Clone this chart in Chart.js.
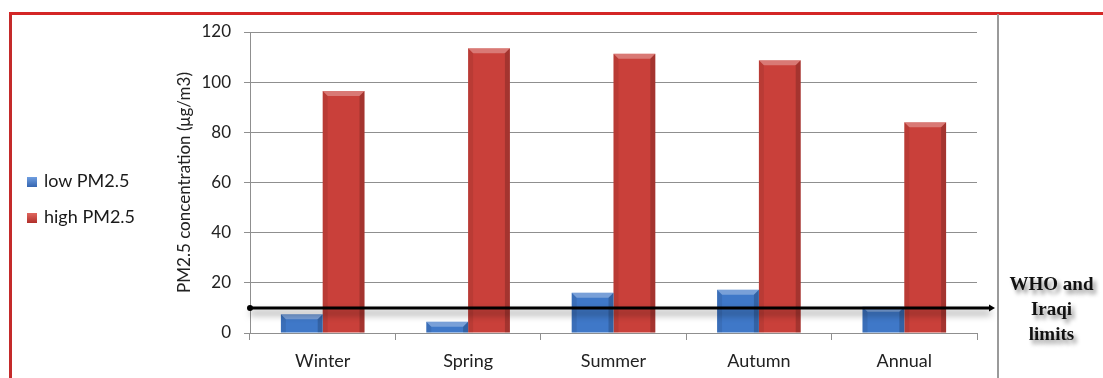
<!DOCTYPE html>
<html>
<head>
<meta charset="utf-8">
<script src="https://cdn.jsdelivr.net/npm/chart.js@4"></script>
<style>
  body { margin: 0; background: #fff; }
  #wrap { position: relative; width: 1103px; height: 378px; overflow: hidden; font-family: Lato, "Open Sans", sans-serif; }
  #frameLeft { position: absolute; left: 9px; top: 12px; width: 3px; height: 380px; background: #c42a2a; }
  #frameTop { position: absolute; left: 9px; top: 12px; width: 1100px; height: 3px; background: #d42626; }
  #frameRight { position: absolute; left: 997px; top: 14px; width: 1.5px; height: 370px; background: #9a9a9a; }
  .legend { position: absolute; left: 27px; font-size: 18px; color: #1a1a1a; line-height: 20px; }
  .legend i { display: inline-block; width: 10px; height: 10px; margin-right: 7px; vertical-align: 0px; }
  #who { position: absolute; left: 1000px; width: 103px; top: 271px; text-align: center;
         font-family: "Liberation Serif", "Times New Roman", serif; font-weight: bold; font-size: 19px;
         line-height: 25px; color: #111; text-shadow: 3px 4px 4px rgba(0,0,0,0.45); }
</style>
</head>
<body>
<div id="wrap">
  <canvas id="chart" width="1103" height="378"></canvas>
  <div id="frameLeft"></div>
  <div id="frameTop"></div>
  <div id="frameRight"></div>
  <div class="legend" style="top:170px"><i style="background:linear-gradient(#6f9ee0,#3565b0)"></i>low PM2.5</div>
  <div class="legend" style="top:206px"><i style="background:linear-gradient(#e0675f,#b02f2a)"></i>high PM2.5</div>
  <div id="who">WHO and<br>Iraqi<br>limits</div>
</div>
<script>
const seasons = ["Winter", "Spring", "Summer", "Autumn", "Annual"];
const lowPM = [7.5, 4.5, 16, 17.2, 10.5];
const highPM = [96.5, 113.5, 111.3, 108.7, 84];
const yTicks = [0, 20, 40, 60, 80, 100, 120];
const limitValue = 10;

// bevelled look of the bars, drawn over each bar element
const bevel = {
    id: "bevel",
    afterDatasetsDraw(chart) {
        const ctx = chart.ctx;
        chart.data.datasets.forEach((ds, i) => {
            chart.getDatasetMeta(i).data.forEach(bar => {
                const { x, y, base, width } = bar.getProps(["x", "y", "base", "width"], true);
                const l = x - width / 2, r = x + width / 2;
                const d = Math.min(5, (base - y) / 2);
                ctx.save();
                ctx.fillStyle = "rgba(255,255,255,0.3)";
                ctx.beginPath();
                ctx.moveTo(l, y); ctx.lineTo(r, y); ctx.lineTo(r - d, y + d); ctx.lineTo(l + d, y + d);
                ctx.closePath(); ctx.fill();
                ctx.fillStyle = "rgba(0,0,0,0.18)";
                ctx.beginPath();
                ctx.moveTo(r, y); ctx.lineTo(r, base); ctx.lineTo(r - d, base); ctx.lineTo(r - d, y + d);
                ctx.closePath(); ctx.fill();
                ctx.fillStyle = "rgba(0,0,0,0.08)";
                ctx.beginPath();
                ctx.moveTo(l, y); ctx.lineTo(l, base); ctx.lineTo(l + d, base); ctx.lineTo(l + d, y + d);
                ctx.closePath(); ctx.fill();
                ctx.restore();
            });
        });
    }
};

// WHO / Iraqi limit line with arrow
const limitLine = {
    id: "limitLine",
    afterDatasetsDraw(chart) {
        const { ctx, chartArea, scales } = chart;
        const y = scales.y.getPixelForValue(limitValue);
        const x0 = chartArea.left, x1 = chartArea.right + 14;
        ctx.save();
        ctx.shadowColor = "rgba(0,0,0,0.5)";
        ctx.shadowBlur = 7;
        ctx.shadowOffsetY = 5;
        ctx.strokeStyle = "#000";
        ctx.lineWidth = 3;
        ctx.beginPath();
        ctx.moveTo(x0, y);
        ctx.lineTo(x1, y);
        ctx.stroke();
        ctx.shadowColor = "transparent";
        ctx.fillStyle = "#000";
        ctx.beginPath();
        ctx.arc(x0, y, 3, 0, Math.PI * 2);
        ctx.fill();
        ctx.beginPath();
        ctx.moveTo(x1 + 4, y);
        ctx.lineTo(x1 - 2, y - 3.5);
        ctx.lineTo(x1 - 2, y + 3.5);
        ctx.closePath();
        ctx.fill();
        ctx.restore();
    }
};

new Chart(document.getElementById("chart"), {
    type: "bar",
    data: {
        labels: seasons,
        datasets: [
            { label: "low PM2.5", data: lowPM, backgroundColor: "#3f78c8", borderWidth: 0 },
            { label: "high PM2.5", data: highPM, backgroundColor: "#c9403a", borderWidth: 0 }
        ]
    },
    plugins: [bevel, limitLine],
    options: {
        responsive: false,
        animation: false,
        categoryPercentage: 0.575,
        barPercentage: 1,
        layout: { padding: { left: 170, right: 126, top: 32, bottom: 0 } },
        plugins: {
            legend: { display: false },
            tooltip: { enabled: false }
        },
        scales: {
            x: {
                grid: { drawOnChartArea: false, color: "#8f8f8f", tickLength: 7 },
                border: { color: "#8f8f8f" },
                ticks: { color: "#222", padding: 10, font: { family: "Lato", size: 18 } },
                afterFit: s => { s.height = 45; }
            },
            y: {
                min: 0,
                max: 120,
                afterBuildTicks: s => { s.ticks = yTicks.map(v => ({ value: v })); },
                grid: { color: "#8f8f8f", tickLength: 6 },
                border: { color: "#8f8f8f" },
                ticks: { color: "#222", padding: 13, font: { family: "Lato", size: 17 } },
                title: {
                    display: true,
                    text: "PM2.5 concentration (μg/m3)",
                    color: "#222",
                    font: { family: "Lato", size: 17 }
                },
                afterFit: s => { s.width = 80; }
            }
        }
    }
});
</script>
</body>
</html>
